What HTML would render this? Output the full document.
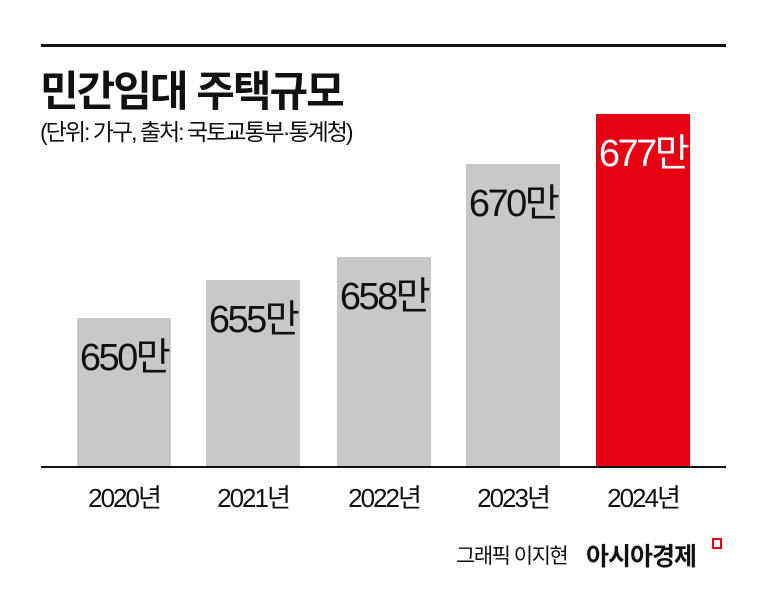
<!DOCTYPE html><html><head><meta charset="utf-8"><style>
body{margin:0;width:769px;height:616px;background:#fff;position:relative;overflow:hidden;font-family:"Liberation Sans","Noto Sans CJK KR",sans-serif;}
div{position:absolute}
.bar{background:#c8c8c9;width:94px;bottom:149px}
.lab{width:94px;text-align:center;font-size:38px;letter-spacing:-2.5px;color:#111}
.yr{width:130px;text-align:center;font-size:26px;top:478px;letter-spacing:-2px;color:#111}
</style></head><body>
<div style="left:41px;top:44px;width:685px;height:3px;background:#111"></div>
<div style="left:40px;top:58px;font-size:42px;font-weight:bold;letter-spacing:-2px;color:#111">민간임대 주택규모</div>
<div style="left:40px;top:113px;font-size:23px;letter-spacing:-2px;color:#111">(단위: 가구, 출처: 국토교통부·통계청)</div>
<div class="bar" style="left:77px;top:318px"></div>
<div class="bar" style="left:206px;top:280px"></div>
<div class="bar" style="left:337px;top:257px"></div>
<div class="bar" style="left:466px;top:164px"></div>
<div class="bar" style="left:596px;top:114px;background:#e60012"></div>
<div class="lab" style="left:77px;top:326px">650만</div>
<div class="lab" style="left:206px;top:288px">655만</div>
<div class="lab" style="left:337px;top:265px">658만</div>
<div class="lab" style="left:466px;top:172px">670만</div>
<div class="lab" style="left:596px;top:122px;color:#fff">677만</div>
<div style="left:41px;top:466px;width:685px;height:2px;background:#111"></div>
<div class="yr" style="left:59px">2020년</div>
<div class="yr" style="left:188px">2021년</div>
<div class="yr" style="left:319px">2022년</div>
<div class="yr" style="left:448px">2023년</div>
<div class="yr" style="left:578px">2024년</div>
<div style="left:456px;top:540px;font-size:21px;letter-spacing:-1.5px;color:#111">그래픽 이지현</div>
<div style="left:586px;top:537px;font-size:25px;font-weight:bold;letter-spacing:-1px;color:#111">아시아경제</div>
<div style="left:712px;top:538px;width:6px;height:7px;border:2px solid #e60012"></div>
</body></html>
